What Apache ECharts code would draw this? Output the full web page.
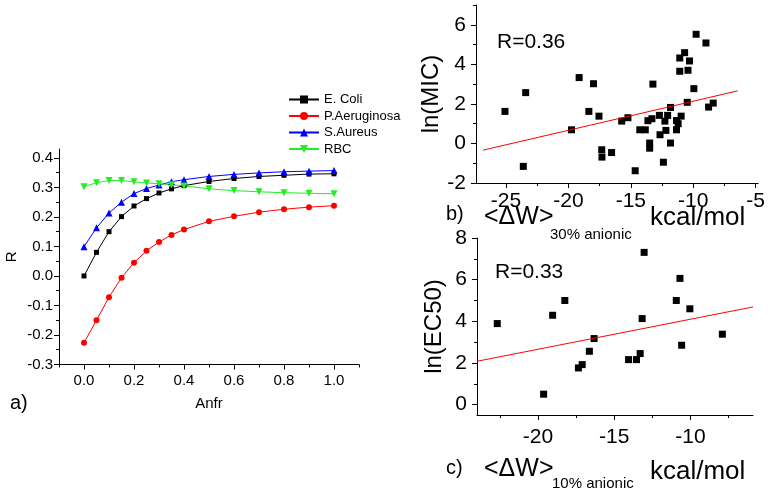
<!DOCTYPE html>
<html>
<head>
<meta charset="utf-8">
<script src="https://cdn.jsdelivr.net/npm/echarts@6/dist/echarts.min.js"></script>
<style>
html, body { margin: 0; padding: 0; background: #ffffff; }
#chart { width: 768px; height: 496px; }
</style>
</head>
<body>
<div id="chart"></div>
<script>
"use strict";

/* ---------- panel a) : R against anionic fraction ---------- */
const anfr = [0, 0.05, 0.1, 0.15, 0.2, 0.25, 0.3, 0.35, 0.4, 0.5, 0.6, 0.7, 0.8, 0.9, 1.0];
const eColi = [0.000, 0.080, 0.150, 0.201, 0.237, 0.262, 0.281, 0.295, 0.306, 0.320, 0.330, 0.337, 0.341, 0.345, 0.346];
const pAeruginosa = [-0.226, -0.150, -0.072, -0.006, 0.045, 0.085, 0.115, 0.139, 0.157, 0.185, 0.202, 0.216, 0.226, 0.233, 0.238];
const sAureus = [0.099, 0.163, 0.213, 0.250, 0.279, 0.296, 0.308, 0.319, 0.326, 0.337, 0.344, 0.349, 0.353, 0.355, 0.357];
const rbc = [0.302, 0.316, 0.323, 0.323, 0.319, 0.315, 0.312, 0.309, 0.305, 0.295, 0.289, 0.285, 0.282, 0.280, 0.278];
const seriesNames = ["E. Coli", "P.Aeruginosa", "S.Aureus", "RBC"];

/* ---------- panel b) : ln(MIC) against <dW> 30% anionic ---------- */
const micX = [-25.08, -23.42, -23.61, -19.75, -19.14, -18.36, -17.99, -17.55, -17.33, -17.31,
              -16.54, -15.73, -15.23, -14.65, -14.28, -13.84, -13.63, -13.49, -13.49, -13.31,
              -13.23, -12.71, -12.66, -12.39, -12.27, -12.19, -12.05, -11.82, -11.82, -11.34,
              -11.34, -11.21, -11.08, -11.08, -10.97, -10.69, -10.48, -10.42, -10.30, -9.95,
              -9.77, -8.98, -8.77, -8.40];
const micY = [1.62, 2.57, -1.16, 0.69, 3.33, 1.62, 3.02, 1.38, -0.32, -0.69,
              -0.46, 1.13, 1.30, -1.38, 0.69, 0.69, 1.15, 0.02, -0.24, 1.25,
              3.00, 1.42, 0.44, -0.95, 1.13, 0.66, 1.42, 1.82, 0.02, 1.16,
              0.69, 1.00, 4.32, 3.65, 1.38, 4.59, 2.08, 3.70, 4.17, 2.77,
              5.52, 5.08, 1.84, 2.04];
const micFitX = [-26.84, -6.43];
const micFitY = [-0.34, 2.66];

/* ---------- panel c) : ln(EC50) against <dW> 10% anionic ---------- */
const ec50X = [-13.04, -10.69, -18.24, -10.93, -10.04, -19.04, -13.17, -22.67, -7.91, -16.32,
               -10.58, -16.63, -13.30, -14.06, -13.54, -17.10, -17.35, -19.63];
const ec50Y = [7.31, 6.06, 5.00, 5.00, 4.60, 4.29, 4.13, 3.89, 3.38, 3.17,
               2.85, 2.56, 2.45, 2.16, 2.16, 1.92, 1.76, 0.50];
const ec50FitX = [-24, -5.9];
const ec50FitY = [2.08, 4.69];

/* ---------- tick values ---------- */
const aXMajor = [0, 0.2, 0.4, 0.6, 0.8, 1.0];
const aXMinor = [-0.1, 0.1, 0.3, 0.5, 0.7, 0.9, 1.1];
const aYMajor = [-0.3, -0.2, -0.1, 0, 0.1, 0.2, 0.3, 0.4];
const aYMinor = [-0.25, -0.15, -0.05, 0.05, 0.15, 0.25, 0.35];
const bXMajor = [-25, -20, -15, -10, -5];
const bXMinor = [-22.5, -17.5, -12.5, -7.5];
const bYMajor = [-2, 0, 2, 4, 6];
const bYMinor = [-1, 1, 3, 5, 7];
const cXMajor = [-20, -15, -10];
const cXMinor = [-22.5, -17.5, -12.5, -7.5];
const cYMajor = [0, 2, 4, 6, 8];
const cYMinor = [1, 3, 5, 7];

const FONT = "'Liberation Sans', Arial, sans-serif";
const palette = { black: "#000000", red: "#ff0000", blue: "#0000ff", green: "#22ee22" };

function pairs(xs, ys){
    return xs.map((x, i) => [x, ys[i]]);
}

// main axis: line, major ticks and labels
function mainAxis(dim, grid, min, max, major, fmt, font, margin, name){
    const ax = {
        type: "value",
        gridIndex: grid,
        position: dim === "x" ? "bottom" : "left",
        min: min,
        max: max,
        axisLine: { show: true, onZero: false, lineStyle: { color: "#000", width: 1 } },
        axisTick: { show: true, inside: false, length: 5, customValues: major, lineStyle: { color: "#000" } },
        axisLabel: { customValues: major, formatter: fmt, color: "#000", fontFamily: FONT, fontSize: font, margin: margin },
        splitLine: { show: false }
    };
    if(name) Object.assign(ax, name);
    return ax;
}

// overlay axis that only draws the short in-between ticks
function minorAxis(dim, grid, min, max, minor){
    return {
        type: "value",
        gridIndex: grid,
        position: dim === "x" ? "bottom" : "left",
        min: min,
        max: max,
        axisLine: { show: false, onZero: false },
        axisTick: { show: true, inside: false, length: 3, customValues: minor, lineStyle: { color: "#000" } },
        axisLabel: { show: false },
        splitLine: { show: false }
    };
}

const fmt1 = v => v.toFixed(1);
const fmt0 = v => String(Math.round(v));

const chart = echarts.init(document.getElementById("chart"));

chart.setOption({
    animation: false,
    textStyle: { fontFamily: FONT },
    grid: [
        { left: 59, top: 149, width: 300, height: 215.5 },
        { left: 476, top: 5, width: 287, height: 178 },
        { left: 477, top: 238, width: 276, height: 177 }
    ],
    xAxis: [
        mainAxis("x", 0, -0.1, 1.1, aXMajor, fmt1, 15, 9,
            { name: "Anfr", nameLocation: "middle", nameGap: 32, nameTextStyle: { color: "#000", fontSize: 15, fontFamily: FONT } }),
        minorAxis("x", 0, -0.1, 1.1, aXMinor),
        mainAxis("x", 1, -27.4, -4.8, bXMajor, fmt0, 21, 8),
        minorAxis("x", 1, -27.4, -4.8, bXMinor),
        mainAxis("x", 2, -24, -5.9, cXMajor, fmt0, 21, 12),
        minorAxis("x", 2, -24, -5.9, cXMinor)
    ],
    yAxis: [
        mainAxis("y", 0, -0.3, 0.43, aYMajor, fmt1, 15, 6,
            { name: "R", nameLocation: "middle", nameGap: 40, nameTextStyle: { color: "#000", fontSize: 15, fontFamily: FONT } }),
        minorAxis("y", 0, -0.3, 0.43, aYMinor),
        mainAxis("y", 1, -2, 7, bYMajor, fmt0, 21, 10,
            { name: "ln(MIC)", nameLocation: "middle", nameGap: 31, nameTextStyle: { color: "#000", fontSize: 24, fontFamily: FONT } }),
        minorAxis("y", 1, -2, 7, bYMinor),
        mainAxis("y", 2, -0.5, 8, cYMajor, fmt0, 21, 10,
            { name: "ln(EC50)", nameLocation: "middle", nameGap: 31, nameTextStyle: { color: "#000", fontSize: 24, fontFamily: FONT } }),
        minorAxis("y", 2, -0.5, 8, cYMinor)
    ],
    legend: {
        data: seriesNames,
        orient: "vertical",
        left: 288,
        top: 93,
        padding: 0,
        itemWidth: 30,
        itemHeight: 10,
        itemGap: 3.5,
        textStyle: { color: "#000", fontSize: 13, fontFamily: FONT }
    },
    series: [
        {
            name: seriesNames[0], type: "line", xAxisIndex: 0, yAxisIndex: 0,
            data: pairs(anfr, eColi),
            symbol: "rect", symbolSize: 5,
            lineStyle: { color: palette.black, width: 1 },
            itemStyle: { color: palette.black }
        },
        {
            name: seriesNames[1], type: "line", xAxisIndex: 0, yAxisIndex: 0,
            data: pairs(anfr, pAeruginosa),
            symbol: "circle", symbolSize: 6,
            lineStyle: { color: palette.red, width: 1 },
            itemStyle: { color: palette.red }
        },
        {
            name: seriesNames[2], type: "line", xAxisIndex: 0, yAxisIndex: 0,
            data: pairs(anfr, sAureus),
            symbol: "triangle", symbolSize: 7,
            lineStyle: { color: palette.blue, width: 1 },
            itemStyle: { color: palette.blue }
        },
        {
            name: seriesNames[3], type: "line", xAxisIndex: 0, yAxisIndex: 0,
            data: pairs(anfr, rbc),
            symbol: "triangle", symbolRotate: 180, symbolSize: 7,
            lineStyle: { color: palette.green, width: 1 },
            itemStyle: { color: palette.green }
        },
        {
            type: "scatter", xAxisIndex: 2, yAxisIndex: 2,
            data: pairs(micX, micY),
            symbol: "rect", symbolSize: 7,
            itemStyle: { color: palette.black, opacity: 1 }
        },
        {
            type: "line", xAxisIndex: 2, yAxisIndex: 2,
            data: pairs(micFitX, micFitY),
            showSymbol: false, symbol: "none",
            lineStyle: { color: palette.red, width: 1 }
        },
        {
            type: "scatter", xAxisIndex: 4, yAxisIndex: 4,
            data: pairs(ec50X, ec50Y),
            symbol: "rect", symbolSize: 7,
            itemStyle: { color: palette.black, opacity: 1 }
        },
        {
            type: "line", xAxisIndex: 4, yAxisIndex: 4,
            data: pairs(ec50FitX, ec50FitY),
            showSymbol: false, symbol: "none",
            lineStyle: { color: palette.red, width: 1 }
        }
    ],
    graphic: [
        { type: "text", left: 10, top: 393, style: { text: "a)", fontSize: 20, fontFamily: FONT, fill: "#000" } },
        { type: "text", left: 446, top: 204, style: { text: "b)", fontSize: 20, fontFamily: FONT, fill: "#000" } },
        { type: "text", left: 446, top: 458, style: { text: "c)", fontSize: 20, fontFamily: FONT, fill: "#000" } },
        { type: "text", left: 497, top: 32, style: { text: "R=0.36", fontSize: 21, fontFamily: FONT, fill: "#000" } },
        { type: "text", left: 495, top: 262, style: { text: "R=0.33", fontSize: 21, fontFamily: FONT, fill: "#000" } },
        { type: "text", left: 484, top: 205, style: { text: "<\u0394W>", fontSize: 25, fontFamily: FONT, fill: "#000" } },
        { type: "text", left: 550, top: 227, style: { text: "30% anionic", fontSize: 15, fontFamily: FONT, fill: "#000" } },
        { type: "text", left: 650, top: 205, style: { text: "kcal/mol", fontSize: 26, fontFamily: FONT, fill: "#000" } },
        { type: "text", left: 484, top: 457, style: { text: "<\u0394W>", fontSize: 25, fontFamily: FONT, fill: "#000" } },
        { type: "text", left: 552, top: 476, style: { text: "10% anionic", fontSize: 15, fontFamily: FONT, fill: "#000" } },
        { type: "text", left: 650, top: 459, style: { text: "kcal/mol", fontSize: 26, fontFamily: FONT, fill: "#000" } }
    ]
});
</script>
</body>
</html>
